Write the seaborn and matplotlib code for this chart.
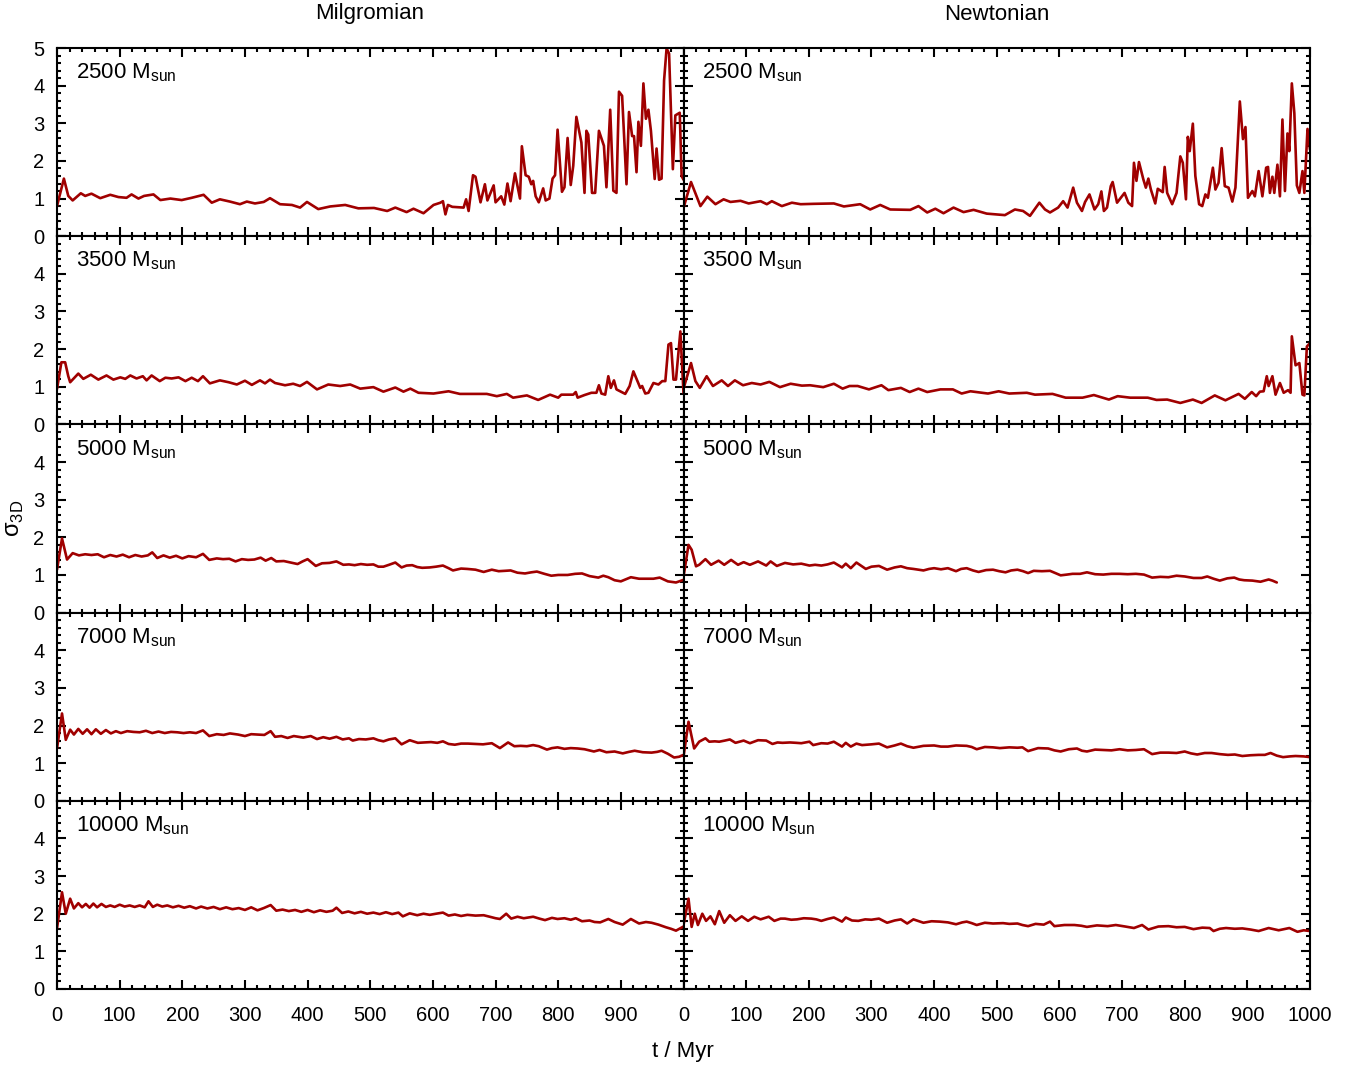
import pandas as pd
import seaborn as sns
import matplotlib.pyplot as plt
from matplotlib.ticker import MultipleLocator

###################
# Data (t / Myr, sigma_3D)
masses = ["2500", "3500", "5000", "7000", "10000"]
models = ["Milgromian", "Newtonian"]

mil_2500 = [(0, 0.80), (11, 1.53), (18, 1.07), (25, 0.95), (38, 1.14), (45, 1.07), (55, 1.13), (69, 1.01),
            (85, 1.10), (98, 1.04), (111, 1.02), (119, 1.11), (130, 1.00), (139, 1.07), (154, 1.11), (165, 0.96),
            (181, 1.00), (199, 0.96), (215, 1.02), (234, 1.10), (247, 0.89), (260, 0.98), (276, 0.92), (292, 0.85),
            (303, 0.92), (316, 0.87), (330, 0.91), (340, 1.01), (356, 0.85), (375, 0.83), (388, 0.76), (399, 0.91),
            (417, 0.72), (436, 0.79), (460, 0.83), (481, 0.74), (506, 0.75), (527, 0.67), (540, 0.76), (558, 0.64),
            (569, 0.73), (585, 0.61), (601, 0.83), (612, 0.89), (616, 0.93), (620, 0.58), (624, 0.83), (631, 0.78),
            (649, 0.76), (653, 0.98), (657, 0.67), (664, 1.62), (668, 1.58), (676, 0.90), (683, 1.38), (687, 0.95),
            (697, 1.35), (700, 0.90), (709, 1.06), (714, 0.84), (719, 1.40), (724, 0.93), (731, 1.67), (739, 1.00),
            (742, 2.39), (748, 1.62), (753, 1.58), (757, 1.38), (760, 1.47), (764, 1.06), (769, 0.90), (776, 1.27),
            (780, 0.95), (786, 1.00), (791, 1.53), (795, 1.62), (799, 2.83), (806, 1.18), (810, 1.30), (815, 2.61),
            (820, 1.36), (824, 1.87), (829, 3.17), (835, 2.66), (837, 2.49), (842, 1.15), (845, 2.80), (848, 2.70),
            (854, 1.15), (859, 1.15), (865, 2.80), (873, 2.40), (877, 1.30), (883, 3.36), (888, 1.21), (893, 1.15),
            (897, 3.84), (902, 3.73), (909, 1.38), (913, 3.30), (918, 2.66), (921, 2.66), (925, 1.70), (928, 3.04),
            (932, 2.40), (936, 4.06), (940, 3.12), (944, 3.36), (948, 2.80), (954, 1.52), (957, 2.33), (961, 1.50),
            (965, 1.53), (969, 4.14), (973, 4.99), (977, 4.85), (983, 1.78), (987, 3.21), (994, 3.28), (997, 1.60),
            (1000, 1.50)]

new_2500 = [(0, 0.75), (12, 1.44), (27, 0.80), (38, 1.05), (51, 0.85), (64, 0.98), (75, 0.91), (91, 0.94),
            (104, 0.87), (123, 0.93), (133, 0.85), (141, 0.93), (157, 0.80), (173, 0.89), (187, 0.85), (208, 0.86),
            (240, 0.87), (256, 0.79), (282, 0.85), (298, 0.71), (314, 0.83), (330, 0.71), (362, 0.70), (375, 0.80),
            (389, 0.63), (402, 0.73), (415, 0.61), (431, 0.76), (447, 0.64), (463, 0.70), (484, 0.60), (513, 0.56),
            (529, 0.71), (542, 0.67), (553, 0.54), (568, 0.89), (577, 0.71), (585, 0.63), (598, 0.76), (606, 0.93),
            (613, 0.76), (622, 1.29), (628, 0.89), (636, 0.67), (641, 0.91), (648, 1.11), (656, 0.71), (662, 0.85),
            (667, 1.19), (671, 0.67), (676, 0.76), (682, 1.33), (685, 1.44), (692, 0.89), (704, 1.15), (710, 0.89),
            (716, 0.80), (719, 1.95), (723, 1.47), (727, 1.97), (734, 1.51), (738, 1.29), (742, 1.53), (746, 1.24),
            (753, 0.87), (757, 1.26), (765, 1.17), (768, 1.84), (772, 1.15), (780, 0.85), (787, 1.15), (793, 2.12),
            (797, 1.95), (802, 0.98), (805, 2.64), (808, 2.26), (813, 2.99), (817, 1.60), (823, 0.85), (828, 0.80),
            (833, 1.11), (837, 1.02), (845, 1.82), (849, 1.24), (854, 1.42), (859, 2.34), (864, 1.33), (870, 1.29),
            (876, 0.92), (881, 1.29), (888, 3.58), (893, 2.58), (897, 2.90), (901, 1.02), (908, 1.20), (912, 1.06),
            (918, 1.73), (924, 1.06), (930, 1.82), (933, 1.84), (936, 1.15), (940, 1.58), (943, 1.15), (948, 1.90),
            (952, 1.06), (956, 3.10), (960, 1.20), (964, 2.73), (967, 2.26), (971, 4.06), (975, 3.27), (979, 1.35),
            (983, 1.15), (988, 1.73), (991, 1.15), (996, 2.85), (1000, 2.30)]

mil_3500 = [(0, 0.94), (7, 1.65), (13, 1.65), (18, 1.28), (21, 1.12), (34, 1.35), (42, 1.21), (54, 1.32),
            (66, 1.19), (79, 1.30), (90, 1.19), (101, 1.25), (109, 1.21), (117, 1.30), (127, 1.22), (137, 1.28),
            (143, 1.17), (151, 1.30), (164, 1.15), (173, 1.24), (183, 1.22), (194, 1.25), (205, 1.15), (215, 1.24),
            (225, 1.15), (233, 1.28), (244, 1.09), (260, 1.17), (274, 1.12), (287, 1.06), (300, 1.16), (311, 1.05),
            (324, 1.17), (332, 1.09), (340, 1.19), (348, 1.10), (364, 1.04), (377, 1.08), (388, 1.02), (399, 1.13),
            (415, 0.93), (433, 1.06), (452, 1.02), (468, 1.06), (484, 0.95), (505, 0.99), (521, 0.87), (540, 0.98),
            (553, 0.87), (564, 0.95), (577, 0.84), (601, 0.82), (625, 0.88), (643, 0.81), (667, 0.81), (686, 0.81),
            (702, 0.75), (718, 0.81), (728, 0.71), (750, 0.77), (768, 0.65), (787, 0.79), (800, 0.71), (805, 0.79),
            (824, 0.79), (828, 0.86), (831, 0.71), (842, 0.78), (853, 0.84), (861, 0.84), (865, 1.04), (869, 0.82),
            (875, 0.79), (880, 1.28), (884, 0.97), (889, 1.17), (893, 0.93), (907, 0.81), (914, 1.02), (920, 1.41),
            (931, 0.97), (934, 1.02), (939, 0.82), (944, 0.84), (952, 1.10), (960, 1.06), (966, 1.15), (971, 1.15),
            (976, 2.12), (980, 2.16), (984, 1.19), (988, 1.19), (995, 2.47), (1000, 0.84)]

new_3500 = [(0, 0.95), (12, 1.63), (19, 1.15), (26, 0.97), (37, 1.28), (47, 1.02), (61, 1.17), (71, 1.02),
            (82, 1.17), (95, 1.04), (109, 1.10), (123, 1.06), (137, 1.13), (154, 0.99), (171, 1.08), (189, 1.03),
            (202, 1.04), (223, 0.99), (240, 1.08), (254, 0.95), (265, 1.02), (278, 1.02), (296, 0.93), (316, 1.04),
            (327, 0.91), (347, 0.97), (361, 0.86), (375, 0.95), (389, 0.86), (410, 0.93), (430, 0.93), (444, 0.82),
            (458, 0.88), (486, 0.82), (503, 0.88), (520, 0.82), (548, 0.84), (561, 0.79), (589, 0.81), (610, 0.71),
            (637, 0.71), (655, 0.78), (679, 0.66), (693, 0.75), (713, 0.71), (741, 0.71), (755, 0.65), (772, 0.66),
            (793, 0.57), (813, 0.66), (827, 0.57), (848, 0.77), (865, 0.64), (886, 0.81), (896, 0.68), (907, 0.86),
            (914, 0.75), (920, 0.87), (926, 0.88), (931, 1.28), (934, 1.02), (940, 1.28), (945, 0.79), (952, 1.10),
            (958, 0.84), (965, 0.91), (969, 0.84), (971, 2.34), (977, 1.57), (983, 1.63), (988, 0.79), (991, 0.77),
            (995, 2.07), (1000, 2.16)]

mil_5000 = [(0, 1.14), (8, 1.97), (16, 1.41), (25, 1.58), (35, 1.52), (45, 1.55), (55, 1.53), (65, 1.55),
            (75, 1.47), (85, 1.53), (95, 1.49), (105, 1.54), (115, 1.47), (125, 1.53), (135, 1.49), (145, 1.52),
            (152, 1.60), (160, 1.45), (170, 1.52), (180, 1.46), (190, 1.51), (200, 1.44), (210, 1.50), (222, 1.47),
            (233, 1.56), (243, 1.40), (255, 1.44), (265, 1.42), (275, 1.43), (285, 1.36), (295, 1.42), (305, 1.40),
            (315, 1.41), (325, 1.46), (333, 1.38), (342, 1.45), (350, 1.36), (362, 1.37), (373, 1.33), (384, 1.29),
            (392, 1.36), (400, 1.42), (413, 1.24), (423, 1.31), (435, 1.32), (446, 1.36), (457, 1.27), (466, 1.28),
            (475, 1.26), (485, 1.29), (495, 1.27), (505, 1.28), (513, 1.22), (521, 1.22), (530, 1.27), (540, 1.33),
            (550, 1.20), (558, 1.25), (567, 1.26), (575, 1.21), (583, 1.19), (595, 1.20), (605, 1.22), (616, 1.25),
            (625, 1.18), (632, 1.12), (645, 1.17), (655, 1.16), (668, 1.14), (681, 1.08), (694, 1.14), (705, 1.10),
            (715, 1.11), (724, 1.12), (735, 1.06), (747, 1.04), (757, 1.07), (766, 1.09), (778, 1.03), (789, 0.98),
            (800, 1.00), (815, 1.00), (827, 1.03), (838, 1.04), (850, 0.97), (864, 0.93), (872, 0.98), (880, 0.94),
            (890, 0.86), (900, 0.83), (916, 0.94), (929, 0.90), (940, 0.90), (952, 0.90), (962, 0.93), (975, 0.83),
            (988, 0.80), (1000, 0.87)]

new_5000 = [(0, 0.95), (8, 1.80), (13, 1.67), (20, 1.23), (25, 1.27), (35, 1.42), (44, 1.27), (56, 1.38),
            (65, 1.27), (76, 1.40), (87, 1.27), (96, 1.34), (106, 1.27), (119, 1.36), (132, 1.25), (139, 1.36),
            (149, 1.24), (162, 1.32), (175, 1.28), (188, 1.30), (201, 1.25), (210, 1.27), (220, 1.25), (230, 1.28),
            (240, 1.33), (253, 1.20), (259, 1.30), (267, 1.18), (276, 1.33), (291, 1.16), (300, 1.22), (312, 1.24),
            (325, 1.14), (337, 1.20), (347, 1.23), (357, 1.18), (367, 1.16), (383, 1.12), (392, 1.16), (400, 1.18),
            (411, 1.15), (422, 1.18), (435, 1.10), (443, 1.16), (452, 1.18), (462, 1.12), (471, 1.08), (483, 1.13),
            (494, 1.14), (504, 1.10), (514, 1.07), (523, 1.12), (533, 1.14), (542, 1.10), (550, 1.05), (559, 1.11),
            (572, 1.10), (585, 1.11), (595, 1.04), (602, 0.99), (612, 1.01), (621, 1.03), (633, 1.03), (644, 1.07),
            (657, 1.02), (670, 1.01), (683, 1.03), (696, 1.03), (709, 1.02), (722, 1.03), (735, 1.01), (748, 0.93),
            (761, 0.95), (774, 0.94), (787, 0.98), (800, 0.96), (814, 0.92), (827, 0.92), (836, 0.96), (846, 0.90),
            (856, 0.85), (868, 0.91), (879, 0.93), (887, 0.88), (895, 0.86), (908, 0.85), (921, 0.82), (934, 0.88),
            (940, 0.85), (947, 0.80)]

mil_7000 = [(0, 1.39), (8, 2.32), (14, 1.62), (21, 1.89), (27, 1.76), (34, 1.91), (41, 1.78), (48, 1.90),
            (55, 1.77), (62, 1.90), (70, 1.78), (78, 1.88), (86, 1.79), (94, 1.85), (102, 1.80), (112, 1.85),
            (122, 1.83), (132, 1.82), (142, 1.86), (152, 1.80), (162, 1.84), (172, 1.80), (182, 1.83), (192, 1.82),
            (202, 1.80), (212, 1.82), (222, 1.80), (233, 1.87), (243, 1.72), (255, 1.77), (266, 1.75), (276, 1.79),
            (289, 1.76), (300, 1.72), (310, 1.77), (320, 1.76), (331, 1.75), (341, 1.85), (348, 1.70), (358, 1.72),
            (368, 1.67), (378, 1.72), (393, 1.68), (405, 1.72), (415, 1.64), (425, 1.69), (435, 1.65), (446, 1.70),
            (456, 1.63), (466, 1.66), (472, 1.60), (482, 1.64), (493, 1.63), (505, 1.66), (513, 1.61), (521, 1.58),
            (530, 1.63), (540, 1.66), (550, 1.50), (563, 1.61), (576, 1.54), (586, 1.55), (597, 1.56), (607, 1.54),
            (616, 1.58), (625, 1.51), (635, 1.49), (645, 1.52), (656, 1.52), (668, 1.51), (680, 1.50), (694, 1.53),
            (707, 1.40), (720, 1.55), (730, 1.45), (740, 1.46), (750, 1.45), (760, 1.48), (769, 1.45), (782, 1.36),
            (790, 1.40), (799, 1.42), (810, 1.38), (820, 1.40), (831, 1.39), (842, 1.37), (857, 1.31), (866, 1.35),
            (877, 1.29), (890, 1.31), (903, 1.26), (913, 1.30), (922, 1.33), (935, 1.29), (949, 1.28), (958, 1.30),
            (965, 1.33), (975, 1.25), (985, 1.15), (993, 1.17), (1000, 1.22)]

new_7000 = [(0, 1.17), (8, 2.10), (17, 1.39), (25, 1.57), (35, 1.66), (41, 1.57), (50, 1.58), (57, 1.57),
            (66, 1.60), (74, 1.63), (83, 1.54), (96, 1.60), (106, 1.53), (119, 1.61), (132, 1.60), (142, 1.51),
            (150, 1.55), (158, 1.54), (170, 1.55), (180, 1.54), (188, 1.53), (201, 1.57), (207, 1.48), (220, 1.53),
            (230, 1.52), (240, 1.57), (253, 1.44), (259, 1.54), (267, 1.44), (276, 1.52), (285, 1.48), (300, 1.50),
            (312, 1.52), (325, 1.42), (337, 1.47), (347, 1.52), (357, 1.45), (367, 1.41), (383, 1.46), (400, 1.47),
            (411, 1.44), (422, 1.44), (435, 1.47), (452, 1.46), (460, 1.43), (468, 1.37), (481, 1.43), (494, 1.42),
            (505, 1.40), (520, 1.42), (533, 1.41), (541, 1.42), (550, 1.32), (566, 1.40), (582, 1.39), (592, 1.34),
            (602, 1.31), (615, 1.37), (628, 1.39), (636, 1.33), (644, 1.31), (657, 1.36), (670, 1.35), (683, 1.34),
            (696, 1.37), (709, 1.34), (722, 1.35), (735, 1.37), (748, 1.24), (761, 1.28), (774, 1.28), (787, 1.27),
            (800, 1.31), (810, 1.26), (820, 1.23), (832, 1.27), (843, 1.27), (856, 1.24), (869, 1.22), (880, 1.23),
            (892, 1.19), (905, 1.21), (918, 1.22), (928, 1.22), (937, 1.27), (947, 1.20), (957, 1.16), (968, 1.18),
            (977, 1.19), (990, 1.18), (1000, 1.16)]

mil_10000 = [(0, 1.61), (8, 2.57), (14, 2.00), (21, 2.40), (27, 2.14), (34, 2.28), (40, 2.17), (46, 2.26),
             (52, 2.16), (58, 2.27), (64, 2.17), (71, 2.26), (78, 2.18), (85, 2.22), (92, 2.18), (100, 2.24),
             (108, 2.19), (116, 2.22), (124, 2.18), (132, 2.22), (140, 2.17), (146, 2.33), (153, 2.18), (160, 2.24),
             (168, 2.19), (176, 2.22), (185, 2.17), (194, 2.21), (203, 2.16), (212, 2.20), (222, 2.14), (230, 2.19),
             (240, 2.14), (250, 2.18), (260, 2.12), (270, 2.17), (280, 2.12), (290, 2.15), (300, 2.10), (310, 2.17),
             (320, 2.09), (330, 2.15), (341, 2.23), (350, 2.08), (360, 2.11), (370, 2.07), (380, 2.10), (390, 2.05),
             (400, 2.10), (410, 2.04), (420, 2.09), (430, 2.05), (440, 2.08), (446, 2.16), (455, 2.02), (465, 2.06),
             (475, 2.01), (485, 2.05), (495, 2.00), (505, 2.03), (515, 1.99), (525, 2.04), (535, 1.99), (545, 2.03),
             (552, 1.93), (563, 2.01), (575, 1.96), (585, 2.00), (595, 1.97), (605, 2.00), (616, 2.03), (625, 1.95),
             (635, 1.98), (645, 1.94), (655, 1.97), (668, 1.95), (681, 1.96), (693, 1.91), (700, 1.88), (707, 1.86),
             (717, 2.00), (725, 1.87), (735, 1.92), (745, 1.88), (760, 1.92), (770, 1.87), (779, 1.83), (790, 1.89),
             (799, 1.86), (810, 1.88), (820, 1.84), (828, 1.88), (838, 1.80), (850, 1.82), (858, 1.78), (867, 1.77),
             (880, 1.86), (890, 1.78), (903, 1.71), (916, 1.86), (929, 1.74), (940, 1.78), (949, 1.76), (960, 1.71),
             (972, 1.64), (980, 1.60), (988, 1.55), (1000, 1.66)]

new_10000 = [(0, 1.70), (8, 2.40), (13, 1.65), (18, 2.00), (23, 1.70), (30, 2.00), (36, 1.81), (43, 1.93),
             (50, 1.72), (57, 2.07), (65, 1.76), (74, 1.96), (83, 1.81), (93, 1.93), (103, 1.81), (113, 1.92),
             (123, 1.85), (136, 1.92), (145, 1.81), (155, 1.87), (162, 1.87), (172, 1.84), (181, 1.85), (192, 1.88),
             (204, 1.87), (212, 1.85), (220, 1.81), (230, 1.86), (240, 1.90), (253, 1.79), (259, 1.90), (269, 1.82),
             (279, 1.81), (290, 1.85), (300, 1.84), (312, 1.87), (325, 1.76), (337, 1.82), (347, 1.85), (357, 1.74),
             (367, 1.85), (383, 1.76), (396, 1.80), (409, 1.79), (422, 1.77), (435, 1.72), (445, 1.77), (452, 1.79),
             (460, 1.75), (468, 1.70), (481, 1.76), (494, 1.74), (510, 1.75), (520, 1.73), (533, 1.74), (541, 1.70),
             (550, 1.67), (562, 1.73), (575, 1.71), (585, 1.79), (592, 1.67), (608, 1.70), (624, 1.70), (635, 1.68),
             (644, 1.65), (660, 1.69), (677, 1.67), (690, 1.70), (705, 1.66), (719, 1.62), (732, 1.70), (742, 1.58),
             (758, 1.66), (774, 1.67), (787, 1.64), (800, 1.65), (814, 1.59), (828, 1.63), (840, 1.62), (846, 1.54),
             (856, 1.60), (866, 1.62), (880, 1.60), (892, 1.61), (905, 1.58), (918, 1.54), (934, 1.62), (950, 1.56),
             (967, 1.62), (980, 1.52), (990, 1.56), (1000, 1.54)]

runs = {
    ("Milgromian", "2500"): mil_2500, ("Newtonian", "2500"): new_2500,
    ("Milgromian", "3500"): mil_3500, ("Newtonian", "3500"): new_3500,
    ("Milgromian", "5000"): mil_5000, ("Newtonian", "5000"): new_5000,
    ("Milgromian", "7000"): mil_7000, ("Newtonian", "7000"): new_7000,
    ("Milgromian", "10000"): mil_10000, ("Newtonian", "10000"): new_10000,
}

rows = []
for (model, mass), pts in runs.items():
    for t, s in pts:
        rows.append((model, mass, t, s))
data = pd.DataFrame(rows, columns=["model", "mass", "t", "sigma"])

###################
# Setup
sns.set_style("ticks")
plt.rcParams["font.family"] = ["Liberation Sans", "DejaVu Sans"]
plt.rcParams["text.color"] = "black"
plt.rcParams["axes.linewidth"] = 1.5
line_color = "#a00000"
xt = list(range(0, 1001, 100))
yt = list(range(6))

fig, axes = plt.subplots(5, 2, figsize=(13.56, 10.67), dpi=100)
fig.subplots_adjust(left=57 / 1356, right=1310 / 1356, top=1 - 48 / 1067, bottom=1 - 989 / 1067,
                    hspace=0, wspace=0)

for i, mass in enumerate(masses):
    for j, model in enumerate(models):
        ax = axes[i, j]
        sub = data[(data["model"] == model) & (data["mass"] == mass)]
        sns.lineplot(sub, ax=ax, x="t", y="sigma", color=line_color, lw=1.9,
                     estimator=None, sort=False)
        ax.set_xlim(0, 1000)
        ax.set_ylim(0, 5)
        ax.set_xlabel("")
        ax.set_ylabel("")
        ax.set_xticks(xt)
        ax.set_yticks(yt)
        ax.xaxis.set_minor_locator(MultipleLocator(20))
        ax.yaxis.set_minor_locator(MultipleLocator(0.2))
        ax.tick_params(which="both", direction="in", top=True, right=True, width=1.5,
                       labelsize=14.5, colors="black")
        ax.tick_params(which="major", length=6.5)
        ax.tick_params(which="minor", length=3)
        ax.tick_params(axis="y", pad=9)
        ax.tick_params(axis="x", pad=12)
        for sp in ax.spines.values():
            sp.set_color("black")

        # tick labels only on the outer panels
        if j == 0:
            ax.set_yticklabels([str(k) if (k < 5 or i == 0) else "" for k in yt])
        else:
            ax.set_yticklabels([])
        if i == 4:
            ax.set_xticklabels([str(k) if (k < 1000 or j == 1) else "" for k in xt])
        else:
            ax.set_xticklabels([])

        ax.text(0.03, 0.868, mass + r" M$_\mathregular{sun}$", transform=ax.transAxes,
                fontsize=16, va="center", ha="left", color="black")

###################
# Labels
fig.text(370 / 1356, 1 - 14 / 1067, "Milgromian", ha="center", va="center", fontsize=16)
fig.text(997 / 1356, 1 - 14 / 1067, "Newtonian", ha="center", va="center", fontsize=16)
fig.text(683 / 1356, 1 - 1051 / 1067, "t / Myr", ha="center", va="center", fontsize=16)
fig.text(15 / 1356, 1 - 518 / 1067, r"σ$_\mathregular{3D}$", ha="center", va="center",
         rotation=90, fontsize=17)

fig.savefig("out.png", dpi=100)
